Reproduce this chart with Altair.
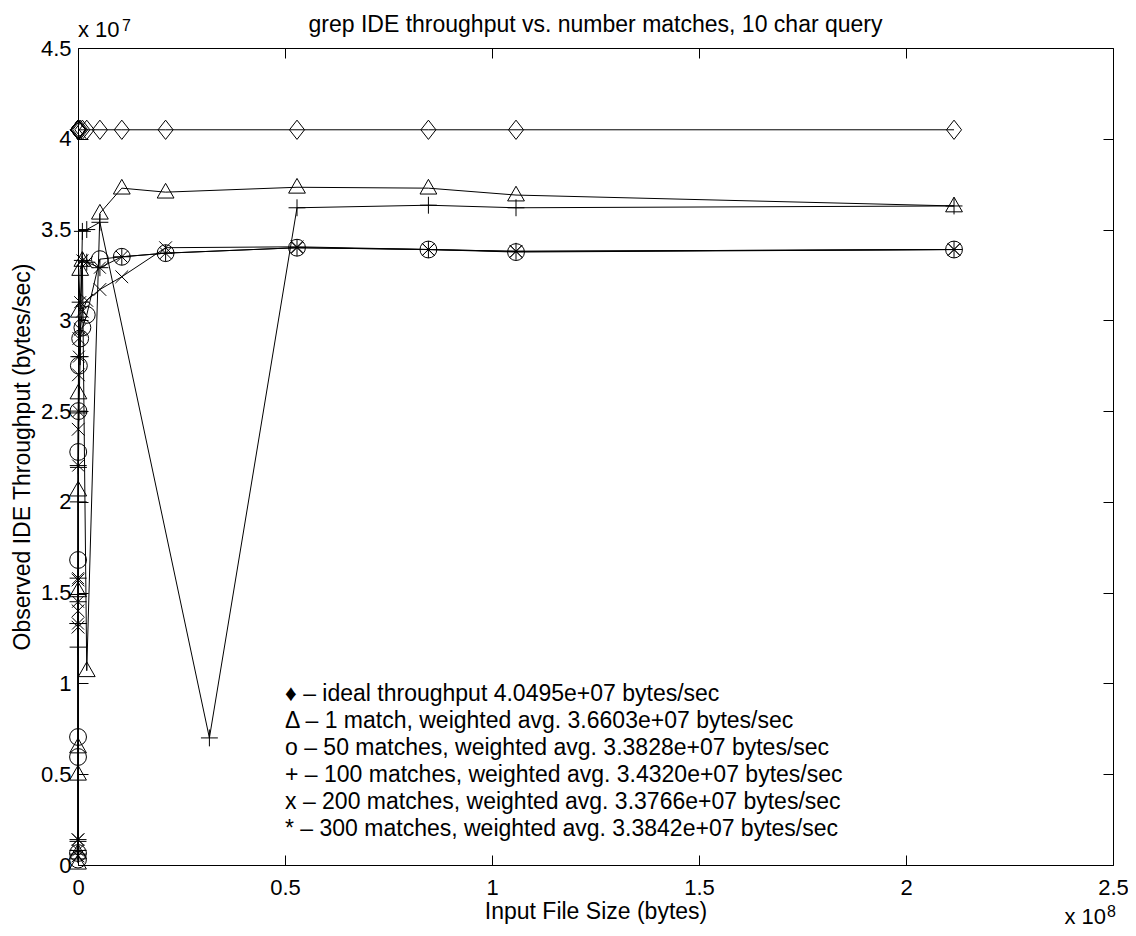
import altair as alt
import pandas as pd

# ---------------- data ----------------
series_names = ["ideal", "1 match", "50 matches", "100 matches", "200 matches", "300 matches"]

sizes = [1058, 2116, 5290, 10580, 21160, 52900, 105800, 211600, 529000, 1058000,
         2116000, 5290000, 10580000, 21160000, 52900000, 84640000, 105800000, 211600000]
sizes_100 = [1058, 2116, 5290, 10580, 21160, 52900, 105800, 211600, 529000, 1058000,
             2116000, 5290000, 31740000, 52900000, 84640000, 105800000, 211600000]

ideal = [4.0495e7, 4.0495e7, 4.0495e7, 4.0495e7, 4.0495e7, 4.0495e7, 4.0495e7, 4.0495e7, 4.0495e7,
         4.0495e7, 4.0495e7, 4.0495e7, 4.0495e7, 4.0495e7, 4.0495e7, 4.0495e7, 4.0495e7, 4.0495e7]
match_1 = [0.010e7, 0.066e7, 0.50e7, 0.65e7, 1.51e7, 2.065e7, 2.60e7, 3.05e7, 3.28e7, 3.33e7,
           1.07e7, 3.59e7, 3.728e7, 3.706e7, 3.733e7, 3.728e7, 3.69e7, 3.63e7]
match_50 = [0.03e7, 0.066e7, 0.595e7, 0.705e7, 1.68e7, 2.275e7, 2.50e7, 2.75e7, 2.90e7, 2.96e7,
            3.03e7, 3.337e7, 3.35e7, 3.37e7, 3.40e7, 3.39e7, 3.376e7, 3.39e7]
match_100 = [0.06e7, 0.13e7, 1.20e7, 1.33e7, 1.49e7, 2.00e7, 2.19e7, 2.49e7, 2.80e7, 3.49e7,
             3.50e7, 3.54e7, 0.70e7, 3.62e7, 3.634e7, 3.62e7, 3.63e7]
match_200 = [0.05e7, 0.14e7, 1.31e7, 1.40e7, 1.57e7, 2.40e7, 2.70e7, 2.90e7, 2.95e7, 3.05e7,
             3.11e7, 3.17e7, 3.24e7, 3.40e7, 3.405e7, 3.39e7, 3.38e7, 3.39e7]
match_300 = [0.08e7, 0.14e7, 1.33e7, 1.45e7, 1.58e7, 2.20e7, 2.50e7, 2.80e7, 3.10e7, 3.33e7,
             3.32e7, 3.29e7, 3.35e7, 3.37e7, 3.40e7, 3.39e7, 3.38e7, 3.39e7]

x_ticks = [0, 0.5e8, 1.0e8, 1.5e8, 2.0e8, 2.5e8]
y_ticks = [0, 0.5e7, 1.0e7, 1.5e7, 2.0e7, 2.5e7, 3.0e7, 3.5e7, 4.0e7, 4.5e7]

title_text = "grep IDE throughput vs. number matches, 10 char query"
x_title = "Input File Size (bytes)"
y_title = "Observed IDE Throughput (bytes/sec)"
legend_lines = [
    "\u2666 \u2013 ideal throughput 4.0495e+07 bytes/sec",
    "\u0394 \u2013 1 match, weighted avg. 3.6603e+07 bytes/sec",
    "o \u2013 50 matches, weighted avg. 3.3828e+07 bytes/sec",
    "+ \u2013 100 matches, weighted avg. 3.4320e+07 bytes/sec",
    "x \u2013 200 matches, weighted avg. 3.3766e+07 bytes/sec",
    "* \u2013 300 matches, weighted avg. 3.3842e+07 bytes/sec",
]

# ---------------- table ----------------
rows = []
for name, xs, ys in [("ideal", sizes, ideal), ("1 match", sizes, match_1),
                     ("50 matches", sizes, match_50), ("100 matches", sizes_100, match_100),
                     ("200 matches", sizes, match_200), ("300 matches", sizes, match_300)]:
    for xv, yv in zip(xs, ys):
        rows.append({"series": name, "size": xv, "throughput": yv})
df = pd.DataFrame(rows)

FONT = "Liberation Sans"
W, H = 1035, 817

shape_range = [
    "M0,-1.15L0.9,0L0,1.15L-0.9,0Z",
    "M0,-1.05L1,0.7L-1,0.7Z",
    "circle",
    "M-1,0L1,0M0,-1L0,1",
    "M-0.75,-0.75L0.75,0.75M-0.75,0.75L0.75,-0.75",
    "M-1,0L1,0M0,-1L0,1M-0.7,-0.7L0.7,0.7M-0.7,0.7L0.7,-0.7",
]
size_range = [280, 290, 185, 225, 225, 200]

xscale = alt.Scale(domain=[0, 2.5e8], nice=False, zero=True)
yscale = alt.Scale(domain=[0, 4.5e7], nice=False, zero=True)

common_axis = dict(domain=False, grid=False, tickSize=10, offset=-10, tickColor="black",
                   tickWidth=1, labelFont=FONT, labelFontSize=22, labelColor="black",
                   titleFont=FONT, titleFontSize=23, titleFontWeight="normal", titleColor="black")

x_bottom = alt.Axis(orient="bottom", values=x_ticks, labelExpr="'' + datum.value / 100000000",
                    labelFlush=False, labelOverlap=False, labelPadding=12, titlePadding=2,
                    **common_axis)
y_left = alt.Axis(orient="left", values=y_ticks, labelExpr="'' + datum.value / 10000000",
                  labelFlush=False, labelOverlap=False, labelPadding=7, titlePadding=6,
                  **common_axis)
x_top = alt.Axis(orient="top", values=x_ticks, labels=False, title=None, **common_axis)
y_right = alt.Axis(orient="right", values=y_ticks, labels=False, title=None, **common_axis)

base = alt.Chart(df)

lines = base.mark_line(color="black", strokeWidth=1).encode(
    x=alt.X("size:Q", scale=xscale, axis=x_bottom, title=x_title),
    y=alt.Y("throughput:Q", scale=yscale, axis=y_left, title=y_title),
    detail="series:N",
    order="size:Q",
)

points = base.mark_point(filled=False, color="black", strokeWidth=1, opacity=1).encode(
    x=alt.X("size:Q", scale=xscale, axis=x_top),
    y=alt.Y("throughput:Q", scale=yscale, axis=y_right),
    shape=alt.Shape("series:N", scale=alt.Scale(domain=series_names, range=shape_range), legend=None),
    size=alt.Size("series:N", scale=alt.Scale(domain=series_names, range=size_range), legend=None),
)

title_mark = alt.Chart(pd.DataFrame({"t": [title_text]})).mark_text(
    font=FONT, fontSize=23, color="black", align="center", baseline="alphabetic"
).encode(text="t:N", x=alt.value(W / 2), y=alt.value(-16))

exp_base = alt.Chart(pd.DataFrame({"t": ["x 10"]}))
exp7 = exp_base.mark_text(font=FONT, fontSize=22, color="black", align="left", baseline="alphabetic"
                          ).encode(text="t:N", x=alt.value(0), y=alt.value(-11))
exp7s = alt.Chart(pd.DataFrame({"t": ["7"]})).mark_text(
    font=FONT, fontSize=16, color="black", align="left", baseline="alphabetic"
).encode(text="t:N", x=alt.value(44), y=alt.value(-17))
exp8 = exp_base.mark_text(font=FONT, fontSize=22, color="black", align="right", baseline="alphabetic"
                          ).encode(text="t:N", x=alt.value(1028), y=alt.value(876))
exp8s = alt.Chart(pd.DataFrame({"t": ["8"]})).mark_text(
    font=FONT, fontSize=16, color="black", align="left", baseline="alphabetic"
).encode(text="t:N", x=alt.value(1029), y=alt.value(869))

legend_mark = alt.Chart(pd.DataFrame({"t": ["\n".join(legend_lines)]})).mark_text(
    font=FONT, fontSize=23, color="black", align="left", baseline="alphabetic",
    lineBreak="\n", lineHeight=27
).encode(text="t:N", x=alt.value(207), y=alt.value(653))

chart = alt.layer(lines, points, title_mark, exp7, exp7s, exp8, exp8s, legend_mark).properties(
    width=W, height=H,
    autosize=alt.AutoSizeParams(type="none"),
    padding={"left": 70, "top": 40, "right": 15, "bottom": 63},
    background="white",
).configure_view(stroke="black", strokeWidth=1)

chart.save("out.html", embed_options={"renderer": "svg", "actions": False})
